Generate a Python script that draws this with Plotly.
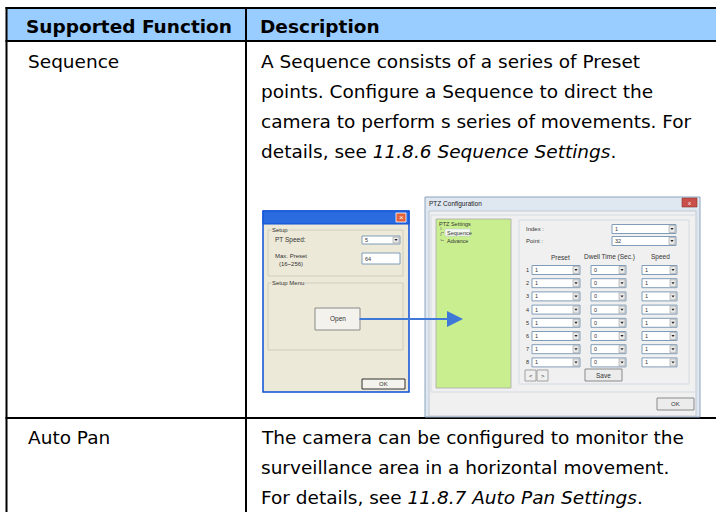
import plotly.graph_objects as go

# ---------------- content ----------------
header_labels = ["Supported Function", "Description"]
function_names = ["Sequence", "Auto Pan"]
sequence_desc = [
    "A Sequence consists of a series of Preset",
    "points. Configure a Sequence to direct the",
    "camera to perform s series of movements. For",
    "details, see <i>11.8.6 Sequence Settings</i>.",
]
autopan_desc = [
    "The camera can be configured to monitor the",
    "surveillance area in a horizontal movement.",
    "For details, see <i>11.8.7 Auto Pan Settings</i>.",
]
descriptions = [sequence_desc, autopan_desc]

setup_group_labels = ["Setup", "Setup Menu"]
setup_field_labels = ["PT Speed:", "Max. Preset<br>(16~256)"]
setup_field_values = ["5", "64"]
setup_buttons = ["Open", "OK"]

ptz_title = "PTZ Configuration"
ptz_tree = ["PTZ Settings", "Sequence", "Advance"]
ptz_fields = ["Index :", "Point :"]
ptz_field_values = ["1", "32"]
ptz_columns = ["Preset", "Dwell Time (Sec.)", "Speed"]
ptz_row_ids = [1, 2, 3, 4, 5, 6, 7, 8]
preset_values = [1, 1, 1, 1, 1, 1, 1, 1]
dwell_values = [0, 0, 0, 0, 0, 0, 0, 0]
speed_values = [1, 1, 1, 1, 1, 1, 1, 1]
ptz_buttons = ["<", ">", "Save", "OK"]

# ---------------- styling / layout constants ----------------
W, H = 716, 512
BODY_FONT = "DejaVu Sans"
UI_FONT = "Liberation Sans"
HEADER_FILL = "#99CCFF"
TEXT_SIZE = 18.5
X_LEFT, X_DIV = 6.5, 246
Y_TOP, Y_HEAD, ROW_TOPS = 8, 41, [41, 418]
FIRST_LINE_Y = [61, 437]
LINE_PITCH = 30

shapes, annotations = [], []


def rect(x0, y0, x1, y1, fill=None, line=None, lw=1):
    shapes.append(dict(type="rect", xref="x", yref="y", x0=x0, y0=y0, x1=x1, y1=y1,
                       fillcolor=fill or "rgba(0,0,0,0)",
                       line=dict(color=line or "rgba(0,0,0,0)", width=lw if line else 0)))


def seg(x0, y0, x1, y1, color="black", lw=2, dash=None):
    d = dict(color=color, width=lw)
    if dash:
        d["dash"] = dash
    shapes.append(dict(type="line", xref="x", yref="y", x0=x0, y0=y0, x1=x1, y1=y1, line=d))


def text(x, y, s, size, color="#000", anchor="left", family=BODY_FONT, bg=None):
    a = dict(x=x, y=y, xref="x", yref="y", text=s, showarrow=False, xanchor=anchor,
             yanchor="middle", borderpad=0,
             font=dict(family=family, size=size, color=color))
    if bg:
        a["bgcolor"] = bg
    annotations.append(a)


def tri(cx, cy, s=1.6, color="#222"):
    shapes.append(dict(type="path", xref="x", yref="y",
                       path=f"M {cx-s},{cy-s*0.6} L {cx+s},{cy-s*0.6} L {cx},{cy+s*0.7} Z",
                       fillcolor=color, line=dict(width=0)))


def dropdown(x0, x1, yc, val, h=9):
    rect(x0, yc - h / 2, x1, yc + h / 2, fill="white", line="#7f9db9", lw=1)
    rect(x1 - 7, yc - h / 2 + 1, x1 - 1, yc + h / 2 - 1, fill="#e9e9e9", line="#9a9a9a", lw=0.6)
    tri(x1 - 4, yc)
    text(x0 + 2, yc, str(val), 5.5, "#333", family=UI_FONT)


def button(x0, y0, x1, y1, label, size=6, fill="#f1f1ee", line="#707070"):
    rect(x0, y0, x1, y1, fill=fill, line=line, lw=1)
    text((x0 + x1) / 2, (y0 + y1) / 2, label, size, "#333", anchor="center", family=UI_FONT)


# ---------------- table ----------------
rect(7, 9, W, 40, fill=HEADER_FILL)
seg(5.5, Y_TOP, W, Y_TOP)
seg(5.5, Y_HEAD, W, Y_HEAD)
seg(5.5, ROW_TOPS[1], W, ROW_TOPS[1])
seg(X_LEFT, 7, X_LEFT, H)
seg(X_DIV, 7, X_DIV, H)

text(25, 26.5, f"<b>{header_labels[0]}</b>", TEXT_SIZE, "#000")
text(259, 26.5, f"<b>{header_labels[1]}</b>", TEXT_SIZE, "#000")

for y0, name, lines in zip(FIRST_LINE_Y, function_names, descriptions):
    text(27, y0, name, TEXT_SIZE, "#000")
    for i, ln in enumerate(lines):
        text(260, y0 + i * LINE_PITCH, ln, TEXT_SIZE, "#000")

# ---------------- small XP setup dialog ----------------
DX0, DY0, DX1, DY1 = 263, 211, 409, 392
rect(DX0, DY0, DX1, DY1, fill="#ece9d8", line="#0a4fd6", lw=1.5)
rect(DX0, DY0, DX1, DY0 + 13, fill="#2b6be0", line="#0a4fd6", lw=1)
rect(DX1 - 13, DY0 + 2, DX1 - 3, DY0 + 11, fill="#e4623a", line="white", lw=0.8)
text(DX1 - 8, DY0 + 6.5, "×", 8, "white", anchor="center", family=UI_FONT)

rect(268, 230, 403, 276, line="#cfcdbf", lw=1)
text(271, 230, setup_group_labels[0], 6, "#333", family=UI_FONT, bg="#ece9d8")
text(274, 240, setup_field_labels[0], 6.5, "#333", family=UI_FONT)
dropdown(362, 400, 240, setup_field_values[0], h=8)
text(274, 260, setup_field_labels[1], 6, "#333", family=UI_FONT)
rect(362, 253, 400, 264, fill="white", line="#7f9db9", lw=1)
text(364, 258.5, setup_field_values[1], 5.5, "#333", family=UI_FONT)

rect(268, 283, 403, 350, line="#cfcdbf", lw=1)
text(271, 283, setup_group_labels[1], 6, "#333", family=UI_FONT, bg="#ece9d8")
button(315, 308, 360, 330, setup_buttons[0], size=6.5, fill="#f3f2ec", line="#8a8a8a")
button(362, 379, 405, 389, setup_buttons[1], size=6, fill="#f3f2ec", line="#303030")

# ---------------- PTZ configuration window ----------------
PX0, PY0, PX1, PY1 = 425, 197, 700, 417
rect(PX0, PY0, PX1, PY1, fill="#dfe7f1", line="#8da2bd", lw=1)
rect(PX0 + 4, PY0 + 14, PX1 - 4, PY1 - 1, fill="#f0f0f0", line="#b5c0cc", lw=0.8)
text(PX0 + 3, PY0 + 7, ptz_title, 6.5, "#222", family=UI_FONT)
rect(PX1 - 18, PY0 + 1, PX1 - 3, PY0 + 10, fill="#c9504a", line="#8c2f2a", lw=0.6)
text(PX1 - 10.5, PY0 + 5.5, "x", 6, "white", anchor="center", family=UI_FONT)

rect(431, 215, 697, 392, line="#d5dbe2", lw=1)
rect(436, 219, 511, 388, fill="#c9ee8f", line="#a8a8a8", lw=0.8)
text(438, 224, ptz_tree[0], 5.5, "#333", family=UI_FONT)
rect(445, 229, 470, 236, fill="#f4f8ee", line="#b9c7d8", lw=0.5)
text(446, 232.5, ptz_tree[1], 5.5, "#333", family=UI_FONT)
text(446, 240.5, ptz_tree[2], 5.5, "#333", family=UI_FONT)
seg(441, 227, 441, 240.5, color="#777", lw=0.6, dash="dot")
seg(441, 232.5, 445, 232.5, color="#777", lw=0.6, dash="dot")
seg(441, 240.5, 445, 240.5, color="#777", lw=0.6, dash="dot")

rect(519, 220, 689, 384, line="#d5dbe2", lw=1)
for i, (lab, val) in enumerate(zip(ptz_fields, ptz_field_values)):
    yc = 229 + i * 12
    text(525, yc, lab, 6, "#333", family=UI_FONT)
    dropdown(612, 676, yc, val, h=9)

col_centers = [560, 609, 660]
col_spans = [(532, 580), (591, 626), (642, 677)]
for c, lab in zip(col_centers, ptz_columns):
    text(c, 257, lab, 6.5, "#333", anchor="center", family=UI_FONT)

for rid, pv, dv, sv in zip(ptz_row_ids, preset_values, dwell_values, speed_values):
    yc = 270 + (rid - 1) * 13.2
    text(525, yc, str(rid), 5.5, "#333", family=UI_FONT)
    for (x0, x1), v in zip(col_spans, [pv, dv, sv]):
        dropdown(x0, x1, yc, v, h=9)

button(525, 370, 536, 381, ptz_buttons[0], size=6, fill="#f0f0f0", line="#a0a0a0")
button(537, 370, 548, 381, ptz_buttons[1], size=6, fill="#f0f0f0", line="#a0a0a0")
button(585, 369, 622, 381, ptz_buttons[2], size=6.5, fill="#ececec", line="#8a8a8a")
button(657, 398, 694, 410, ptz_buttons[3], size=6, fill="#ececec", line="#8a8a8a")

# ---------------- arrow from Open to PTZ ----------------
annotations.append(dict(x=463, y=319, ax=358, ay=319, xref="x", yref="y", axref="x", ayref="y",
                        text="", showarrow=True, arrowhead=2, arrowsize=1.6, arrowwidth=2,
                        arrowcolor="#3f78d6"))

fig = go.Figure()
fig.update_layout(
    width=W, height=H, margin=dict(l=0, r=0, t=0, b=0),
    paper_bgcolor="white", plot_bgcolor="white",
    xaxis=dict(range=[0, W], visible=False, fixedrange=True),
    yaxis=dict(range=[H, 0], visible=False, fixedrange=True),
    shapes=shapes, annotations=annotations, showlegend=False,
)
fig.write_html("out.html", config={"displayModeBar": False},
               post_script="document.body.style.margin='0px';document.body.style.overflow='hidden';")
